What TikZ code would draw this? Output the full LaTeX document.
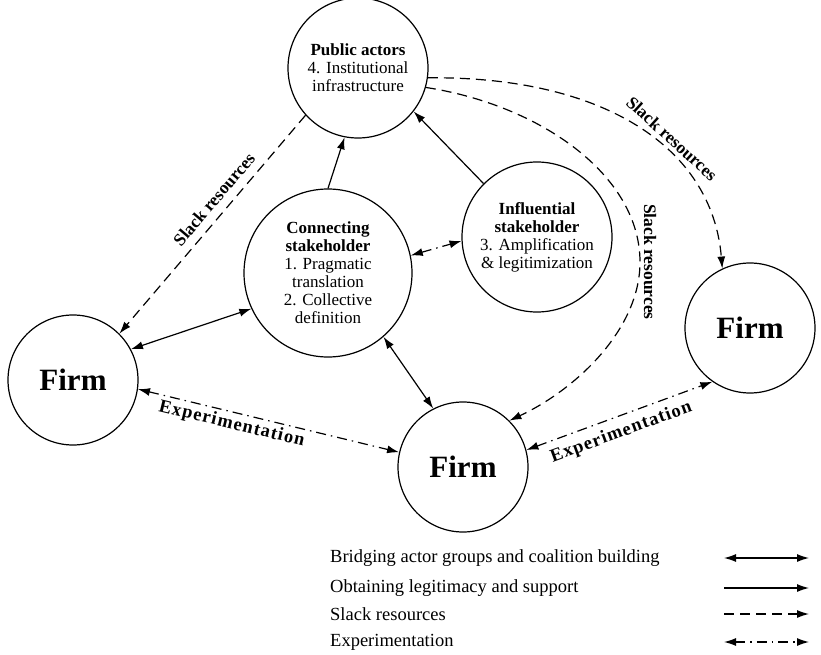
\documentclass[tikz,border=0pt]{standalone}
\usepackage{fontspec}
\setmainfont{Liberation Serif}
\usepackage{tikz}
\usetikzlibrary{arrows.meta}

\begin{document}
\begin{tikzpicture}[x=1pt, y=-1pt,
    actor/.style={draw, circle, line width=1.2pt, inner sep=0pt, align=center,
                  font=\fontsize{17}{18}\selectfont},
    firm/.style={draw, circle, line width=1.2pt, inner sep=0pt, minimum size=130pt,
                 font=\fontsize{31}{33}\selectfont\bfseries},
    link/.style={line width=1.2pt, -{Latex[length=12pt, width=8pt]}},
    bridge/.style={link, {Latex[length=12pt, width=8pt]}-{Latex[length=12pt, width=8pt]}},
    support/.style={link},
    slack/.style={link, dash pattern=on 10pt off 6pt},
    experiment/.style={bridge, dash pattern=on 10pt off 5pt on 1.5pt off 5pt},
    lbl/.style={font=\fontsize{17.5}{19}\selectfont\bfseries},
    lblwide/.style={font=\fontsize{18.5}{20}\selectfont\bfseries\addfontfeature{LetterSpace=6}},
    legend/.style={anchor=west, inner sep=0pt, font=\fontsize{18.5}{20}\selectfont}]
  \useasboundingbox (0,0) rectangle (821,655);

  % the actors
  \node[actor, minimum size=140pt] (pub) at (358,68)
    {\textbf{Public actors}\\4. Institutional\\infrastructure};
  \node[actor, minimum size=168pt] (con) at (328,273)
    {\textbf{Connecting}\\\textbf{stakeholder}\\1. Pragmatic\\translation\\2. Collective\\definition};
  \node[actor, minimum size=150pt] (inf) at (537,237)
    {\textbf{Influential}\\\textbf{stakeholder}\\3. Amplification\\\& legitimization};

  % the firms
  \node[firm] (firmL) at (73,380) {Firm};
  \node[firm] (firmB) at (463,467) {Firm};
  \node[firm] (firmR) at (750,328) {Firm};

  % legitimacy and support
  \draw[support] (con.90) -- (pub.259);
  \draw[support] (inf.135) -- (pub.-38);

  % bridging
  \draw[bridge] (con.205) -- (firmL.28);
  \draw[bridge] (con.-49) -- (firmB.117);
  \draw[experiment] (con.12) -- (inf.183);

  % experimentation between firms
  \draw[experiment] (firmL.-8) --
    node[lblwide, sloped, below=0pt, pos=0.37] {Experimentation} (firmB.167);
  \draw[experiment] (firmB.15) --
    node[lblwide, sloped, below=4pt, pos=0.48] {Experimentation} (firmR.235);

  % slack resources from the public actors
  \draw[slack] (pub.222) --
    node[lbl, sloped, above=5pt, pos=0.43] {Slack resources} (firmL.45);
  \draw[slack] (pub.-8) .. controls (600,76) and (712,145) ..
    node[lbl, sloped, above=2pt, pos=0.6] {Slack resources} (firmR.115);
  \draw[slack] (pub.-16) .. controls (540,105) and (640,175) .. (640,262)
    node[lbl, rotate=-90, anchor=south] {Slack resources}
    .. controls (640,330) and (575,390) .. (firmB.45);

  % legend
  \node[legend] (lgBridge) at (330,558) {Bridging actor groups and coalition building};
  \node[legend] (lgSupport) at (330,588) {Obtaining legitimacy and support};
  \node[legend] (lgSlack) at (330,614) {Slack resources};
  \node[legend] (lgExp) at (330,642) {Experimentation};
  \coordinate (lgBridgeA) at (724,558);  \coordinate (lgBridgeB) at (809,558);
  \coordinate (lgSupportA) at (724,588); \coordinate (lgSupportB) at (809,588);
  \coordinate (lgSlackA) at (724,614);   \coordinate (lgSlackB) at (809,614);
  \coordinate (lgExpA) at (724,642);     \coordinate (lgExpB) at (809,642);
  \draw[bridge] (lgBridgeA) -- (lgBridgeB);
  \draw[support] (lgSupportA) -- (lgSupportB);
  \draw[slack] (lgSlackA) -- (lgSlackB);
  \draw[experiment] (lgExpA) -- (lgExpB);
\end{tikzpicture}
\end{document}
